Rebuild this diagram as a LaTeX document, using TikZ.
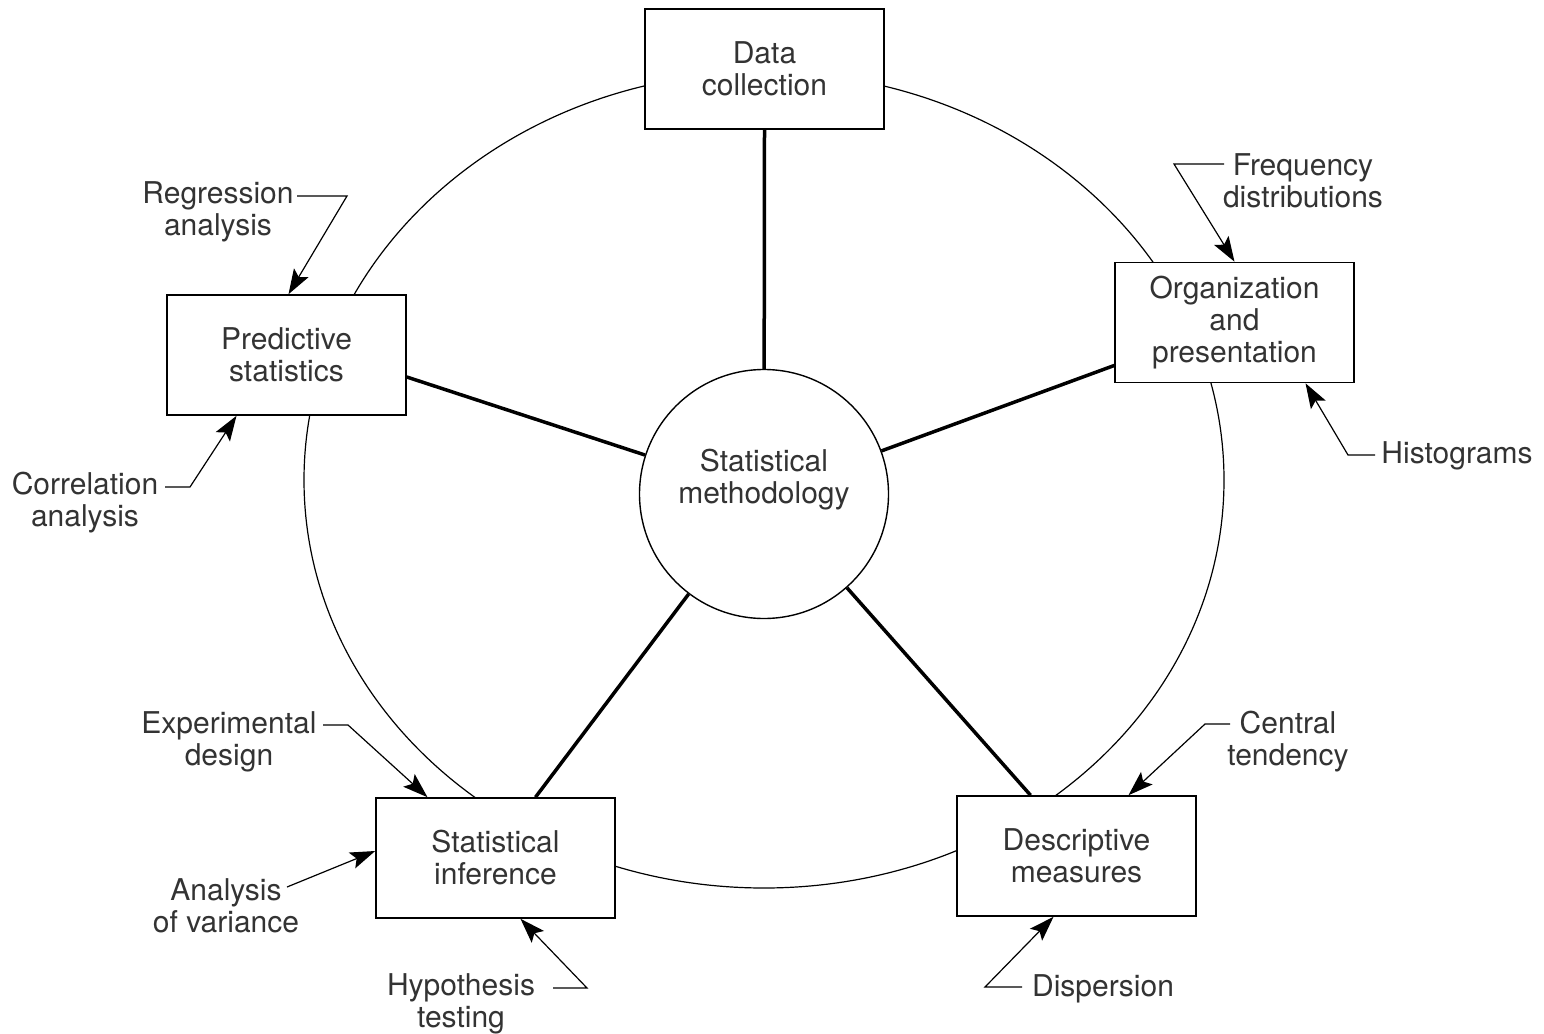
\documentclass[tikz,border=0pt]{standalone}
\usepackage{fontspec}
\setmainfont{TeX Gyre Heros}
\usetikzlibrary{arrows.meta,calc}
\begin{document}
\begin{tikzpicture}[x=1pt,y=-1pt,
  txt/.style={font=\fontsize{30}{32}\selectfont, text=black!80, align=center},
  box/.style={txt, draw, line width=1.6pt, fill=white, minimum width=239pt, minimum height=120pt, inner sep=0pt},
  lbl/.style={txt, inner sep=0pt},
  spoke/.style={line width=3.5pt},
  lead/.style={line width=1.2pt, -{Stealth[length=25pt,width=17pt,inset=5pt]}},
  ring/.style={line width=1.2pt}]
\useasboundingbox (0,0) rectangle (1544,1033);
\fill[white] (0,0) rectangle (1544,1033);
% outer ring
\draw[ring] (764,480) ellipse [x radius=460, y radius=408];
% nodes
\node[box] (dc) at (764.5,69) {Data\\collection};
\node[box] (op) at (1234.5,322.5) {Organization\\and\\presentation};
\node[box] (ps) at (286.5,355) {Predictive\\statistics};
\node[box] (si) at (495.5,858) {Statistical\\inference};
\node[box] (dm) at (1076.5,856) {Descriptive\\measures};
\node[circle, draw, line width=1.4pt, fill=white, minimum size=249pt, inner sep=0pt] (c) at (764,494) {};
\node[txt, inner sep=0pt] (ctxt) at (764,480) {Statistical\\methodology};
% spokes
\draw[spoke] (c) -- (dc.south);
\draw[spoke] (c) -- ($(ps.east)+(0,22)$);
\draw[spoke] (c) -- ($(op.west)+(0,43)$);
\draw[spoke] (c) -- ($(si.north)+(40,0)$);
\draw[spoke] (c) -- ($(dm.north)+(-46,0)$);
% labels
\node[lbl] (reg) at (218,212) {Regression\\analysis};
\node[lbl] (cor) at (85,503) {Correlation\\analysis};
\node[lbl] (fq) at (1303,181) {Frequency\\distributions};
\node[lbl] (hist) at (1457,456) {Histograms};
\node[lbl] (exp) at (229,742) {Experimental\\design};
\node[lbl] (anv) at (226,906) {Analysis\\of variance};
\node[lbl] (hyp) at (461,1004) {Hypothesis\\testing};
\node[lbl] (disp) at (1103,989) {Dispersion};
\node[lbl] (ct) at (1288,742) {Central\\tendency};
% leader coordinates
\coordinate (reg1) at (297,196); \coordinate (reg2) at (347,196);
\coordinate (cor1) at (165,487); \coordinate (cor2) at (190,487);
\coordinate (fq1) at (1224,164); \coordinate (fq2) at (1174,164);
\coordinate (hist1) at (1375,455); \coordinate (hist2) at (1348,455);
\coordinate (exp1) at (323,725); \coordinate (exp2) at (348,725);
\coordinate (anv1) at (287,887);
\coordinate (hyp1) at (553,988); \coordinate (hyp2) at (587,988);
\coordinate (disp1) at (1022,987); \coordinate (disp2) at (985,987);
\coordinate (ct1) at (1230,724); \coordinate (ct2) at (1205,724);
% leaders
\draw[lead] (reg1) -- (reg2) -- ($(ps.north)+(2,0)$);
\draw[lead] (cor1) -- (cor2) -- ($(ps.south)+(-50,0)$);
\draw[lead] (fq1) -- (fq2) -- (op.north);
\draw[lead] (hist1) -- (hist2) -- ($(op.south)+(71,0)$);
\draw[lead] (exp1) -- (exp2) -- ($(si.north)+(-68,0)$);
\draw[lead] (anv1) -- ($(si.west)+(0,-7)$);
\draw[lead] (hyp1) -- (hyp2) -- ($(si.south)+(25,0)$);
\draw[lead] (disp1) -- (disp2) -- ($(dm.south)+(-23,0)$);
\draw[lead] (ct1) -- (ct2) -- ($(dm.north)+(52,0)$);
\end{tikzpicture}
\end{document}
